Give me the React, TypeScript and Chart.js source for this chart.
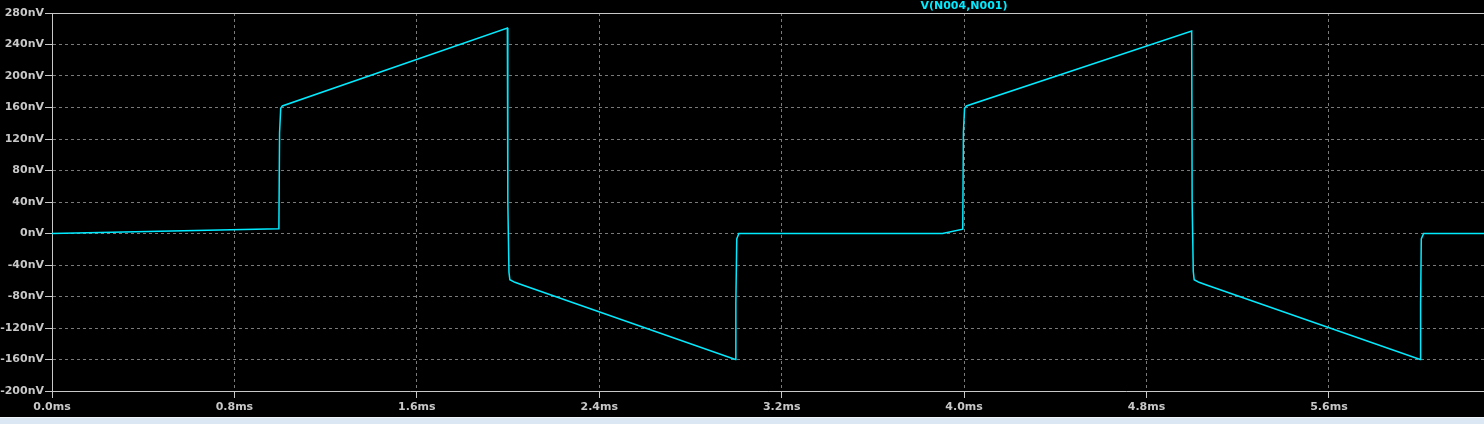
import React, { useEffect, useRef } from "react";
import { Chart, registerables } from "chart.js";

Chart.register(...registerables);

// Trace V(N004,N001): time in ms, voltage in nV
const TIME_MS = [
  0, 0.995, 0.998, 1.003, 1.01, 1.997, 1.999, 2.004, 2.008, 2.03, 2.06, 2.997,
  2.999, 3.003, 3.012, 3.905, 3.994, 3.997, 4.002, 4.01, 4.998, 5.0, 5.005,
  5.009, 5.03, 5.06, 6.0, 6.002, 6.005, 6.015, 6.3,
];
const VOLT_NV = [
  0, 6, 128, 159, 162, 261, 40, -49, -58.7, -62, -65, -160,
  -89, -7, 0, 0, 5.5, 129, 159, 162, 257, 40, -48,
  -58.7, -62, -65, -160, -89, -7, 0, 0,
];
const X_TICKS = [0, 0.8, 1.6, 2.4, 3.2, 4.0, 4.8, 5.6];
const Y_TICKS = [-200, -160, -120, -80, -40, 0, 40, 80, 120, 160, 200, 240, 280];
const TRACE_NAME = "V(N004,N001)";

const X_MIN = 0;
const X_MAX = 6.28;
const Y_MIN = -200;
const Y_MAX = 280;

const TRACE_COLOR = "rgb(0,235,255)";
const AXIS_COLOR = "#c8c8c8";
const GRID_COLOR = "#7a7a7a";
const FONT = { family: "DejaVu Sans", size: 11, weight: "bold" as const };

export default function App() {
  const ref = useRef<HTMLCanvasElement | null>(null);

  useEffect(() => {
    document.body.style.margin = "0";
    const canvas = ref.current;
    if (!canvas) return;

    const bgPlugin = {
      id: "bg",
      beforeDraw(chart: any) {
        const { ctx, width, height } = chart;
        ctx.save();
        ctx.fillStyle = "#000";
        ctx.fillRect(0, 0, width, height);
        ctx.restore();
      },
      afterDraw(chart: any) {
        const { ctx, chartArea } = chart;
        const y = chart.scales.y.getPixelForValue(Y_MAX);
        ctx.save();
        ctx.strokeStyle = AXIS_COLOR;
        ctx.lineWidth = 1;
        ctx.setLineDash([]);
        ctx.beginPath();
        ctx.moveTo(chartArea.left, Math.round(y) + 0.5);
        ctx.lineTo(chartArea.right, Math.round(y) + 0.5);
        ctx.stroke();
        ctx.fillStyle = TRACE_COLOR;
        ctx.font = "bold 11px 'DejaVu Sans'";
        ctx.textAlign = "center";
        ctx.textBaseline = "alphabetic";
        ctx.fillText(TRACE_NAME, 964, 8.5);
        ctx.restore();
      },
    };

    const chart = new Chart(canvas, {
      type: "line",
      data: {
        datasets: [
          {
            label: TRACE_NAME,
            data: TIME_MS.map((t, i) => ({ x: t, y: VOLT_NV[i] })),
            borderColor: TRACE_COLOR,
            borderWidth: 1.5,
            pointRadius: 0,
            tension: 0,
            fill: false,
          },
        ],
      },
      options: {
        animation: false,
        responsive: false,
        devicePixelRatio: 1,
        layout: { padding: { top: 13, right: 0, bottom: 0, left: 0 } },
        plugins: {
          legend: { display: false },
          tooltip: { enabled: false },
          title: { display: false },
        },
        scales: {
          x: {
            type: "linear",
            min: X_MIN,
            max: X_MAX,
            afterBuildTicks: (scale: any) => {
              scale.ticks = X_TICKS.map((v) => ({ value: v }));
            },
            afterFit: (scale: any) => {
              scale.height = 26;
            },
            ticks: {
              color: AXIS_COLOR,
              font: FONT,
              padding: 3,
              maxRotation: 0,
              autoSkip: false,
              callback: (v: any) => `${Number(v).toFixed(1)}ms`,
            },
            grid: {
              color: GRID_COLOR,
              lineWidth: 1,
              drawTicks: true,
              tickLength: 7,
              tickColor: AXIS_COLOR,
              tickBorderDash: [],
            },
            border: { display: true, color: AXIS_COLOR, width: 1, dash: [3, 3] },
          },
          y: {
            type: "linear",
            min: Y_MIN,
            max: Y_MAX,
            afterBuildTicks: (scale: any) => {
              scale.ticks = Y_TICKS.map((v) => ({ value: v }));
            },
            afterFit: (scale: any) => {
              scale.width = 52;
            },
            ticks: {
              color: AXIS_COLOR,
              font: FONT,
              padding: 1,
              autoSkip: false,
              callback: (v: any) => `${v}nV`,
            },
            grid: {
              color: GRID_COLOR,
              lineWidth: 1,
              drawTicks: true,
              tickLength: 7,
              tickColor: AXIS_COLOR,
              tickBorderDash: [],
            },
            border: { display: true, color: AXIS_COLOR, width: 1, dash: [3, 3] },
          },
        },
      },
      plugins: [bgPlugin],
    });

    return () => chart.destroy();
  }, []);

  return (
    <div style={{ width: 1484, height: 424, background: "#000", overflow: "hidden" }}>
      <canvas ref={ref} width={1484} height={417} style={{ display: "block" }} />
      <div
        style={{
          width: 1484,
          height: 7,
          background: "#dbe7f3",
          borderTop: "1px solid #f2f6fa",
          boxSizing: "border-box",
        }}
      />
    </div>
  );
}
